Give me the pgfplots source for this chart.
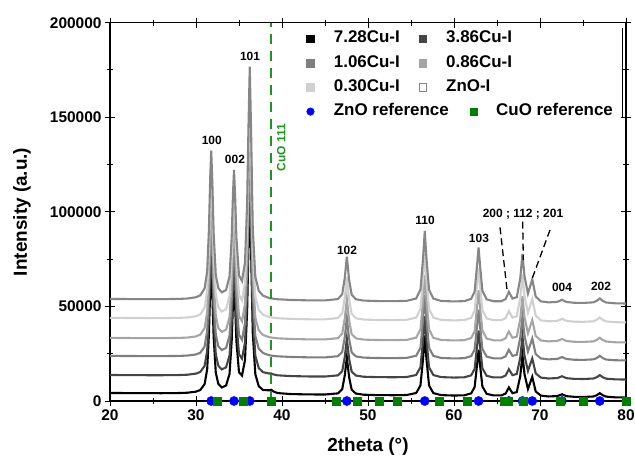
\documentclass[border=0pt]{standalone}
\usepackage{fontspec}
\setmainfont{Liberation Sans}
\usepackage{pgfplots}
\pgfplotsset{compat=1.18}
\usepackage{pgfplotstable}
\usetikzlibrary{calc}
\definecolor{cA}{HTML}{000000}
\definecolor{cB}{HTML}{454545}
\definecolor{cC}{HTML}{7F7F7F}
\definecolor{cD}{HTML}{A5A5A5}
\definecolor{cE}{HTML}{D0D0D0}
\definecolor{cF}{HTML}{868686}
\definecolor{zblue}{HTML}{0000FF}
\definecolor{cgreen}{HTML}{008000}
\definecolor{dgreen}{HTML}{1E961E}
\pgfplotstableread{
x s1 s2 s3 s4 s5 s6
20 4250 13750 23850 33360 43960 53960
22 4190 13690 23790 33290 43900 53900
24 4140 13640 23750 33250 43860 53860
26 4120 13630 23730 33240 43840 53850
28 4210 13720 23830 33340 43960 53970
29 4380 13900 24020 33540 44160 54180
30 4950 14480 24620 34160 44810 54850
30.5 5810 15360 25530 35100 45800 55870
31 8900 18520 28810 38490 49330 59510
31.3 16700 26510 37060 47020 58230 68690
31.5 35050 45280 56490 67090 79170 90270
31.65 58370 69160 81190 92610 105790 117710
31.77 70850 81920 94390 106260 120020 132390
31.9 56810 67560 79530 90900 104000 115870
32.05 34110 44330 55500 66080 78110 89180
32.3 14970 24740 35230 45130 56260 66660
32.6 8980 18600 28890 38570 49420 59610
33.0 7130 16710 26930 36560 47320 57440
33.5 8210 17820 28080 37740 48550 58710
33.9 14350 24100 34580 44450 55560 65930
34.15 31690 41850 52940 63430 75350 86340
34.3 51520 62140 73930 85120 97980 109670
34.42 62140 73010 85180 96740 110100 122160
34.55 50480 61080 72840 83990 96790 108450
34.7 31590 41750 52840 63330 75240 86230
35.0 15200 24720 35050 44950 56080 66470
35.35 13440 22420 32350 42150 53160 63470
35.7 21690 30970 41250 51360 62760 73360
35.95 48230 58490 69970 81030 93710 105270
36.1 81260 92590 105430 117680 131930 144680
36.25 108480 120450 134260 147460 163000 176700
36.4 81030 92350 105190 117420 131670 144400
36.6 35900 46160 57400 68040 80160 91310
36.9 14090 23840 34310 44180 55280 65650
37.3 7790 17390 27640 37300 48100 58250
37.8 5780 15230 25350 34920 45620 55700
38.5 5670 14520 24220 33760 44410 54450
38.75 5950 14530 24040 33570 44220 54250
39.0 5020 14060 23870 33400 44030 54060
39.5 4190 13580 23620 33140 43770 53790
41 3680 13180 23290 32800 43420 53430
43 3480 12980 23090 32590 43200 53210
45 3430 12940 23040 32550 43160 53170
46.5 4030 13550 23690 33220 43860 53890
47.0 6190 15760 25970 35580 46320 56430
47.3 13560 23300 33770 43640 54730 65100
47.54 23090 33060 43870 54070 65610 76320
47.8 12740 22470 32910 42750 53810 64150
48.1 5970 15530 25740 35340 46070 56180
48.6 3910 13430 23560 33090 43730 53760
49.5 3330 12830 22940 32460 43070 53080
51 3120 12630 22730 32240 42840 52850
53 3050 12550 22660 32170 42770 52780
54.5 3180 12690 22800 32310 42930 52940
55.6 4220 13760 23910 33460 44130 54180
56.1 8210 17840 28130 37830 48680 58880
56.4 22180 32140 42930 53110 64630 75310
56.6 34590 44840 56060 66680 78780 89910
56.8 22170 32130 42910 53100 64610 75300
57.1 8170 17800 28090 37790 48640 58840
57.6 4180 13710 23860 33410 44080 54140
58.5 3120 12630 22750 32260 42880 52900
60 2880 12390 22500 32010 42620 52630
61.2 3020 12530 22650 32160 42790 52800
62.0 4040 13580 23730 33290 43960 54010
62.4 7360 16970 27240 36910 47740 57910
62.7 20020 29930 40650 50770 62190 72810
62.86 27150 37230 48200 58570 70330 81200
63.05 18150 28020 38670 48730 60070 70620
63.3 7670 17290 27580 37260 48100 58290
63.8 3780 13310 23460 33010 43670 53720
64.6 2940 12460 22570 32090 42720 52740
65.5 2940 12450 22570 32090 42720 52740
66.0 3920 13460 23620 33170 43850 53900
66.38 7170 16790 27060 36730 47560 57730
66.8 4140 13680 23850 33410 44090 54160
67.3 4720 14280 24460 34050 44760 54850
67.7 13050 22810 33290 43170 54270 64650
67.96 24210 34230 45100 55380 67010 77780
68.2 14150 23930 34450 44360 55520 65940
68.6 6320 15920 26160 35800 46590 56740
69.1 12760 22510 32980 42850 53950 64320
69.5 5030 14590 24790 34390 45120 55220
70.1 2860 12380 22500 32020 42650 52680
71 2400 11900 22010 31520 42130 52140
72.0 2610 12130 22240 31760 42380 52400
72.3 3090 12610 22740 32280 42920 52960
72.56 3550 13090 23240 32790 43460 53510
72.85 2980 12500 22630 32160 42810 52840
73.1 2550 12060 22180 31700 42320 52340
74 2200 11700 21810 31310 41920 51930
75 2130 11630 21740 31240 41850 51850
76.2 2370 11880 22000 31510 42130 52150
76.6 3060 12580 22720 32260 42920 52960
76.95 4150 13700 23880 33460 44160 54240
77.3 3030 12550 22690 32230 42880 52920
77.7 2300 11810 21920 31440 42060 52070
78.7 1950 11450 21550 31050 41660 51660
80 1830 11330 21440 30940 41540 51540
}\xrd
\begin{document}
\begin{tikzpicture}
\begin{axis}[
  scale only axis, width=516bp, height=378.3bp,
  xmin=20, xmax=80, ymin=0, ymax=200000,
  xtick={20,30,...,80}, ytick={0,50000,...,200000},
  minor x tick num=1, minor y tick num=1,
  scaled y ticks=false,
  /pgf/number format/fixed,
  /pgf/number format/1000 sep={},
  /pgf/number format/assume math mode=true,
  tick label style={font=\fontsize{15.5}{18}\selectfont\bfseries},
  tick align=center, major tick length=10bp, minor tick length=6bp,
  every tick/.style={black, line width=1pt},
  axis line style={line width=1.2pt},
  xlabel={2theta (°)}, ylabel={Intensity (a.u.)},
  label style={font=\fontsize{19}{22}\selectfont\bfseries},
  xlabel style={at={(axis description cs:0.5,-0.1216)}, anchor=center},
  ylabel style={at={(axis description cs:-0.1705,0.5)}, anchor=center},
  clip=false,
  legend columns=2,
  legend cell align=left,
  legend style={at={(axis description cs:0.3806,0.984)}, anchor=north west,
    draw=none, fill=none, inner sep=0pt,
    font=\fontsize{17}{19}\selectfont\bfseries,
    row sep=4.8bp,
    nodes={inner sep=2bp, text height=12bp, text depth=3.5bp},
    /tikz/every odd column/.append style={column sep=17.5bp},
    /tikz/every even column/.append style={column sep=12.5bp}},
]
\addlegendimage{only marks, mark=square*, mark size=3.9bp, cA}
\addlegendentry{7.28Cu-I}
\addlegendimage{only marks, mark=square*, mark size=3.9bp, cB}
\addlegendentry{3.86Cu-I}
\addlegendimage{only marks, mark=square*, mark size=3.9bp, cC}
\addlegendentry{1.06Cu-I}
\addlegendimage{only marks, mark=square*, mark size=3.9bp, cD}
\addlegendentry{0.86Cu-I}
\addlegendimage{only marks, mark=square*, mark size=3.9bp, cE}
\addlegendentry{0.30Cu-I}
\addlegendimage{only marks, mark=square*, mark size=3.7bp, mark options={draw=cF, fill=white, line width=0.6pt}}
\addlegendentry{ZnO-I}
\addlegendimage{only marks, mark=*, mark size=3.8bp, zblue}
\addlegendentry{\rlap{ZnO reference}}
\addlegendimage{legend image code/.code={\fill[overlay, cgreen] (0.3cm+51bp-3.5bp,-3.5bp) rectangle (0.3cm+51bp+3.5bp,3.5bp);}}
\addlegendentry{\hspace*{50bp}CuO reference}

\addplot[cA, line width=2.1pt, forget plot] table[x=x, y=s1]{\xrd};
\addplot[cB, line width=2.1pt, forget plot] table[x=x, y=s2]{\xrd};
\addplot[cC, line width=2.1pt, forget plot] table[x=x, y=s3]{\xrd};
\addplot[cD, line width=2.1pt, forget plot] table[x=x, y=s4]{\xrd};
\addplot[cE, line width=2.1pt, forget plot] table[x=x, y=s5]{\xrd};
\addplot[cF, line width=2.1pt, forget plot] table[x=x, y=s6]{\xrd};

\addplot[dgreen, line width=1.6pt, dash pattern=on 10bp off 7bp, forget plot] coordinates {(38.7,0) (38.7,200000)};

\addplot[only marks, mark=*, mark size=4.6bp, zblue, forget plot] coordinates {
(31.77,0) (34.42,0) (36.25,0) (47.54,0) (56.60,0) (62.86,0) (66.38,0) (67.96,0) (69.10,0) (72.56,0) (76.95,0)};
\addplot[only marks, mark=square*, mark size=4bp, cgreen, forget plot] coordinates {
(32.5,0) (35.5,0) (38.7,0) (46.3,0) (48.7,0) (51.3,0) (53.4,0) (58.3,0) (61.5,0) (65.8,0) (66.3,0) (68.1,0) (72.4,0) (75.0,0) (80.0,0)};

\begin{scope}[font=\fontsize{12}{14}\selectfont\bfseries]
\node at (axis cs:31.83,138000) {100};
\node at (axis cs:34.53,127800) {002};
\node at (axis cs:36.28,182400) {101};
\node at (axis cs:47.56,79800) {102};
\node at (axis cs:56.63,95300) {110};
\node at (axis cs:62.9,85800) {103};
\node at (axis cs:68.02,98900) {200 ; 112 ; 201};
\node at (axis cs:72.56,60100) {004};
\node at (axis cs:77.1,60400) {202};
\node[rotate=90, text=dgreen] at (axis cs:39.92,134000) {CuO 111};
\end{scope}
\draw[line width=1.3pt, dash pattern=on 7bp off 4bp] (axis cs:65.35,91800) -- (axis cs:66.19,57800);
\draw[line width=1.3pt, dash pattern=on 7bp off 4bp] (axis cs:67.99,94800) -- (axis cs:68.06,74500);
\draw[line width=1.3pt, dash pattern=on 7bp off 4bp] (axis cs:71.16,90400) -- (axis cs:69.03,64000);
\draw[line width=0.8pt] (axis cs:79.6,197300) -- (axis cs:79.6,149600);
\end{axis}
\pgfresetboundingbox
\useasboundingbox ($(current axis.south west)+(-110bp,-62bp)$) rectangle ($(current axis.north east)+(9bp,22.7bp)$);
\end{tikzpicture}
\end{document}
